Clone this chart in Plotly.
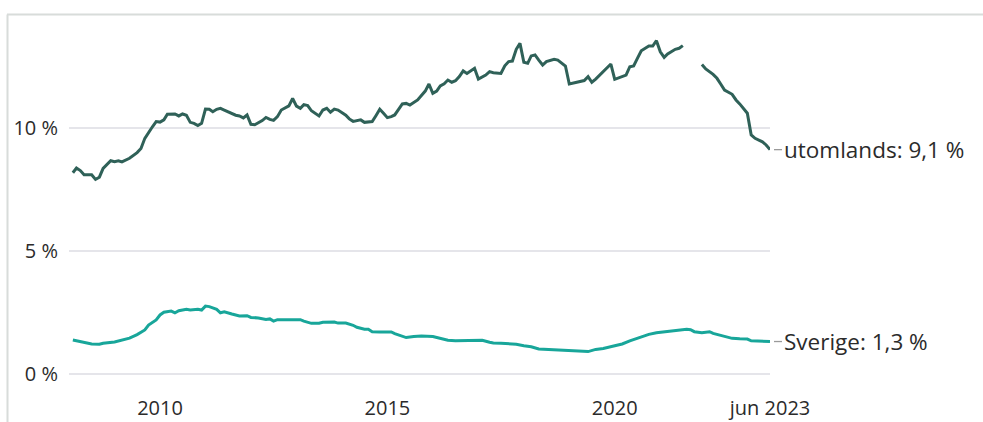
import plotly.graph_objects as go

# ---- data ----
utomlands_dates = [
    "2008-02", "2008-03", "2008-04", "2008-05", "2008-07", "2008-08", "2008-09", "2008-10", "2008-12",
    "2009-01", "2009-02", "2009-03", "2009-05", "2009-07", "2009-08", "2009-09", "2009-11", "2009-12",
    "2010-01", "2010-02", "2010-03", "2010-05", "2010-06", "2010-07", "2010-08", "2010-09", "2010-10",
    "2010-11", "2010-12", "2011-01", "2011-02", "2011-03", "2011-04", "2011-05", "2011-06", "2011-08",
    "2011-09", "2011-10", "2011-11", "2011-12", "2012-01", "2012-02", "2012-04", "2012-05", "2012-06",
    "2012-07", "2012-08", "2012-09", "2012-11", "2012-12", "2013-01", "2013-02", "2013-03", "2013-04",
    "2013-05", "2013-07", "2013-08", "2013-09", "2013-10", "2013-11", "2013-12", "2014-02", "2014-03",
    "2014-04", "2014-06", "2014-07", "2014-09", "2014-10", "2014-11", "2014-12", "2015-01", "2015-02",
    "2015-03", "2015-04", "2015-05", "2015-06", "2015-07", "2015-09", "2015-10", "2015-11", "2015-12",
    "2016-01", "2016-02", "2016-03", "2016-04", "2016-05", "2016-06", "2016-07", "2016-08", "2016-09",
    "2016-10", "2016-12", "2017-01", "2017-03", "2017-04", "2017-05", "2017-07", "2017-08", "2017-09",
    "2017-10", "2017-11", "2017-12", "2018-01", "2018-02", "2018-03", "2018-04", "2018-05", "2018-06",
    "2018-07", "2018-09", "2018-10", "2018-11", "2018-12", "2019-01", "2019-02", "2019-04", "2019-05",
    "2019-06", "2019-07", "2019-08", "2019-10", "2019-11", "2019-12", "2020-01", "2020-03", "2020-04",
    "2020-05", "2020-06", "2020-07", "2020-08", "2020-10", "2020-11", "2020-12", "2021-01", "2021-02",
    "2021-03", "2021-05", "2021-06", "2021-07", "2021-08", "2021-12", "2022-01", "2022-03", "2022-04",
    "2022-05", "2022-06", "2022-08", "2022-09", "2022-10", "2022-11", "2022-12", "2023-01", "2023-02",
    "2023-04", "2023-05", "2023-06",
]
utomlands_values = [
    8.18, 8.37, 8.27, 8.10, 8.10, 7.91, 8.00, 8.36, 8.67,
    8.63, 8.67, 8.62, 8.77, 9.00, 9.17, 9.58, 10.05, 10.26,
    10.24, 10.33, 10.56, 10.57, 10.49, 10.57, 10.52, 10.23, 10.19,
    10.10, 10.19, 10.77, 10.76, 10.66, 10.76, 10.80, 10.73, 10.60,
    10.52, 10.49, 10.41, 10.53, 10.15, 10.13, 10.30, 10.43, 10.35,
    10.31, 10.46, 10.73, 10.90, 11.20, 10.89, 10.80, 10.95, 10.91,
    10.70, 10.49, 10.73, 10.80, 10.64, 10.77, 10.73, 10.52, 10.37,
    10.27, 10.33, 10.23, 10.26, 10.50, 10.76, 10.60, 10.42, 10.46,
    10.53, 10.76, 10.98, 11.00, 10.93, 11.14, 11.34, 11.50, 11.79,
    11.41, 11.50, 11.71, 11.80, 11.95, 11.86, 11.92, 12.09, 12.32,
    12.22, 12.43, 11.99, 12.15, 12.29, 12.25, 12.22, 12.53, 12.70,
    12.72, 13.20, 13.44, 12.67, 12.63, 12.93, 12.97, 12.76, 12.56,
    12.70, 12.79, 12.76, 12.63, 12.52, 11.79, 11.82, 11.89, 11.93,
    12.09, 11.86, 11.99, 12.29, 12.43, 12.60, 11.98, 12.09, 12.15,
    12.49, 12.52, 12.83, 13.14, 13.33, 13.33, 13.55, 13.10, 12.87,
    13.01, 13.20, 13.24, 13.35, None, 12.58, 12.40, 12.18, 12.02,
    11.79, 11.54, 11.37, 11.14, 10.98, 10.80, 10.60, 9.72, 9.58,
    9.44, 9.31, 9.12,
]

sverige_dates = [
    "2008-02", "2008-03", "2008-05", "2008-07", "2008-09", "2008-10", "2009-01", "2009-03", "2009-05",
    "2009-07", "2009-09", "2009-10", "2009-12", "2010-01", "2010-02", "2010-04", "2010-05", "2010-06",
    "2010-08", "2010-09", "2010-11", "2010-12", "2011-01", "2011-02", "2011-04", "2011-05", "2011-06",
    "2011-08", "2011-10", "2011-12", "2012-01", "2012-03", "2012-05", "2012-06", "2012-07", "2012-08",
    "2012-10", "2012-11", "2013-02", "2013-03", "2013-05", "2013-07", "2013-08", "2013-11", "2013-12",
    "2014-02", "2014-04", "2014-05", "2014-07", "2014-08", "2014-09", "2014-11", "2015-02", "2015-03",
    "2015-05", "2015-06", "2015-08", "2015-10", "2016-01", "2016-03", "2016-05", "2016-07", "2016-10",
    "2016-12", "2017-02", "2017-04", "2017-05", "2017-07", "2017-09", "2017-11", "2018-01", "2018-03",
    "2018-05", "2018-08", "2018-10", "2019-02", "2019-06", "2019-08", "2019-10", "2020-01", "2020-03",
    "2020-05", "2020-08", "2020-10", "2020-12", "2021-03", "2021-05", "2021-08", "2021-09", "2021-10",
    "2021-12", "2022-02", "2022-03", "2022-06", "2022-08", "2022-10", "2022-12", "2023-01", "2023-03",
    "2023-05", "2023-06",
]
sverige_values = [
    1.38, 1.35, 1.27, 1.22, 1.21, 1.25, 1.30, 1.37, 1.46,
    1.60, 1.79, 1.99, 2.20, 2.40, 2.51, 2.56, 2.49, 2.57,
    2.63, 2.60, 2.63, 2.60, 2.76, 2.74, 2.63, 2.49, 2.53,
    2.44, 2.36, 2.37, 2.30, 2.28, 2.22, 2.24, 2.15, 2.21,
    2.22, 2.20, 2.21, 2.15, 2.06, 2.06, 2.10, 2.11, 2.07,
    2.07, 1.98, 1.90, 1.82, 1.82, 1.72, 1.71, 1.71, 1.64,
    1.54, 1.48, 1.52, 1.54, 1.52, 1.45, 1.37, 1.35, 1.35,
    1.38, 1.37, 1.29, 1.26, 1.25, 1.23, 1.21, 1.15, 1.11,
    1.02, 1.00, 0.96, 0.93, 0.91, 1.00, 1.04, 1.15, 1.22,
    1.35, 1.52, 1.61, 1.68, 1.74, 1.78, 1.82, 1.80, 1.72,
    1.68, 1.72, 1.65, 1.54, 1.45, 1.43, 1.42, 1.35, 1.35,
    1.33, 1.32,
]

series_names = ["utomlands", "Sverige"]
series_colors = ["#2f6158", "#18a69a"]

x_tick_vals = ["2010-01-01", "2015-01-01", "2020-01-01", "2023-06-01"]
x_tick_text = ["2010", "2015", "2020", "jun 2023"]
y_tick_vals = [0, 5, 10]
y_tick_text = [f"{v} %" for v in y_tick_vals]

# ---- figure ----
FONT = "Open Sans, Noto Sans, DejaVu Sans, sans-serif"
TEXT = "#2b2b2b"

W, H = 983, 422
ML, MR, MT, MB = 69, 213, 25, 30
PW, PH = W - ML - MR, H - MT - MB


def px_x(p):
    return (p - ML) / PW


def px_y(p):
    return (H - MB - p) / PH


fig = go.Figure()
all_dates = [utomlands_dates, sverige_dates]
all_values = [utomlands_values, sverige_values]
for name, color, d, v in zip(series_names, series_colors, all_dates, all_values):
    fig.add_trace(go.Scatter(
        x=d, y=v, mode="lines", name=name,
        line=dict(color=color, width=3),
        connectgaps=False, hoverinfo="skip",
    ))

shapes = [
    # light frame: top and left edges
    dict(type="line", xref="paper", yref="paper",
         x0=px_x(7), x1=px_x(983), y0=px_y(14.5), y1=px_y(14.5),
         line=dict(color="#d8dcda", width=2)),
    dict(type="line", xref="paper", yref="paper",
         x0=px_x(7.5), x1=px_x(7.5), y0=px_y(14.5), y1=px_y(422),
         line=dict(color="#d8dcda", width=2)),
]
annotations = []
for name, color, v in zip(series_names, series_colors, all_values):
    last = [val for val in v if val is not None][-1]
    shapes.append(dict(type="line", xref="paper", yref="y",
                       x0=px_x(774), x1=px_x(782), y0=last, y1=last,
                       line=dict(color="#9a9a9a", width=1.3)))
    label = f"{name}: {last:.1f} %".replace(".", ",")
    annotations.append(dict(xref="paper", yref="y", x=px_x(782), y=last,
                            xanchor="left", yanchor="middle", showarrow=False,
                            text=label, font=dict(family=FONT, size=22.5, color=TEXT)))

fig.update_layout(
    width=W, height=H,
    margin=dict(l=ML, r=MR, t=MT, b=MB, pad=0, autoexpand=False),
    paper_bgcolor="white", plot_bgcolor="white",
    showlegend=False,
    font=dict(family=FONT, size=20, color=TEXT),
    shapes=shapes, annotations=annotations,
)
fig.update_xaxes(
    type="date", range=["2008-01-01", "2023-06-01"],
    tickmode="array", tickvals=x_tick_vals, ticktext=x_tick_text,
    showgrid=False, zeroline=False, showline=False, ticks="",
    tickfont=dict(family=FONT, size=20, color=TEXT),
    ticklabelstandoff=2, automargin=False,
)
fig.update_yaxes(
    range=[-(H - MB - 374) / 24.6, (374 - MT) / 24.6],
    tickmode="array", tickvals=y_tick_vals, ticktext=y_tick_text,
    showgrid=True, gridcolor="#e5e5ea", gridwidth=1.5,
    zeroline=False, showline=False, ticks="",
    tickfont=dict(family=FONT, size=20, color=TEXT),
    ticklabelstandoff=10, automargin=False,
)

fig.write_html("out.html", config={"displayModeBar": False},
               post_script="document.body.style.margin='0';")
